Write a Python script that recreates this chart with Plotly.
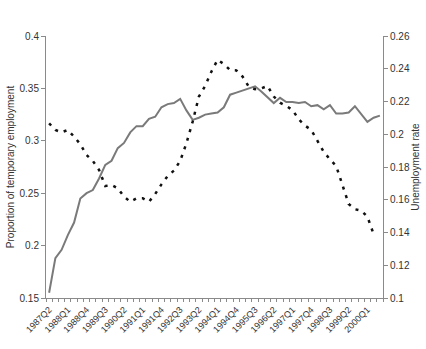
import plotly.graph_objects as go

# Quarters 1987Q2 .. 2000Q3
quarters = []
for y in range(1987, 2001):
    for q in range(1, 5):
        if (y == 1987 and q < 2) or (y == 2000 and q > 3):
            continue
        quarters.append(f"{y}Q{q}")

temp_share = [0.155, 0.188, 0.196, 0.210, 0.222, 0.245, 0.250, 0.253, 0.264, 0.277,
              0.281, 0.293, 0.298, 0.308, 0.314, 0.314, 0.321, 0.323, 0.332, 0.335,
              0.336, 0.340, 0.329, 0.320, 0.322, 0.325, 0.326, 0.327, 0.332, 0.344,
              0.346, 0.348, 0.350, 0.352, 0.347, 0.341, 0.336, 0.341, 0.337, 0.337,
              0.336, 0.337, 0.333, 0.334, 0.330, 0.334, 0.326, 0.326, 0.327, 0.333,
              0.326, 0.318, 0.322, 0.324]

unemp_rate = [0.2067, 0.2026, 0.2012, 0.2026, 0.1985, 0.1939, 0.1873, 0.1837, 0.1782, 0.1684,
              0.1690, 0.1670, 0.1619, 0.1588, 0.1609, 0.1609, 0.1588, 0.1635, 0.1694, 0.1745,
              0.1778, 0.1837, 0.1945, 0.2077, 0.2230, 0.2295, 0.2382, 0.2455, 0.2429, 0.2392,
              0.2390, 0.2352, 0.2290, 0.2275, 0.2280, 0.2295, 0.2230, 0.2193, 0.2173, 0.2148,
              0.2091, 0.2053, 0.2026, 0.1960, 0.1893, 0.1847, 0.1806, 0.1690, 0.1574, 0.1542,
              0.1533, 0.1497, 0.1390]

idx = list(range(len(quarters)))
tick_idx = idx[::3][:18]
tick_text = [quarters[i] for i in tick_idx]

axis_col = "#8a8a8a"
font = dict(family="Liberation Sans, Arial, sans-serif", size=10, color="#333333")

fig = go.Figure()
fig.add_trace(go.Scatter(x=idx, y=temp_share, mode="lines",
                         line=dict(color="#7a7a7a", width=2), name="Temporary employment",
                         yaxis="y"))
fig.add_trace(go.Scatter(x=idx[:len(unemp_rate)], y=unemp_rate, mode="lines",
                         line=dict(color="#111111", width=2.5, dash="3px,6px"),
                         name="Unemployment rate", yaxis="y2"))

fig.update_layout(
    width=426, height=349,
    margin=dict(l=46, r=43, t=36, b=51, autoexpand=False),
    paper_bgcolor="white", plot_bgcolor="white",
    showlegend=False,
    font=font,
    xaxis=dict(range=[-0.5, len(quarters) - 0.5], tickmode="array", tickvals=tick_idx,
               ticktext=tick_text, tickangle=-45, showgrid=False, zeroline=False,
               showline=True, linecolor=axis_col, linewidth=1, ticks="",
               ticklabelstandoff=2,
               tickfont=dict(size=9, color="#333333"),
               minor=dict(ticks="outside", tick0=-0.5, dtick=1, ticklen=3,
                          tickcolor=axis_col, showgrid=False)),
    yaxis=dict(range=[0.15, 0.4], dtick=0.05, tick0=0.15, showgrid=False, zeroline=False,
               showline=True, linecolor=axis_col, linewidth=1, ticks="outside",
               ticklen=4, tickcolor=axis_col,
               title=dict(text="Proportion of temporary employment", standoff=3,
                          font=dict(size=10, color="#333333"))),
    yaxis2=dict(range=[0.1, 0.26], dtick=0.02, tick0=0.1, overlaying="y", side="right",
                showgrid=False, zeroline=False, showline=True, linecolor=axis_col,
                linewidth=1, ticks="outside", ticklen=4, tickcolor=axis_col,
                title=dict(text="Unemployment rate", standoff=3,
                           font=dict(size=10, color="#333333"))),
)

fig.write_html("out.html")
